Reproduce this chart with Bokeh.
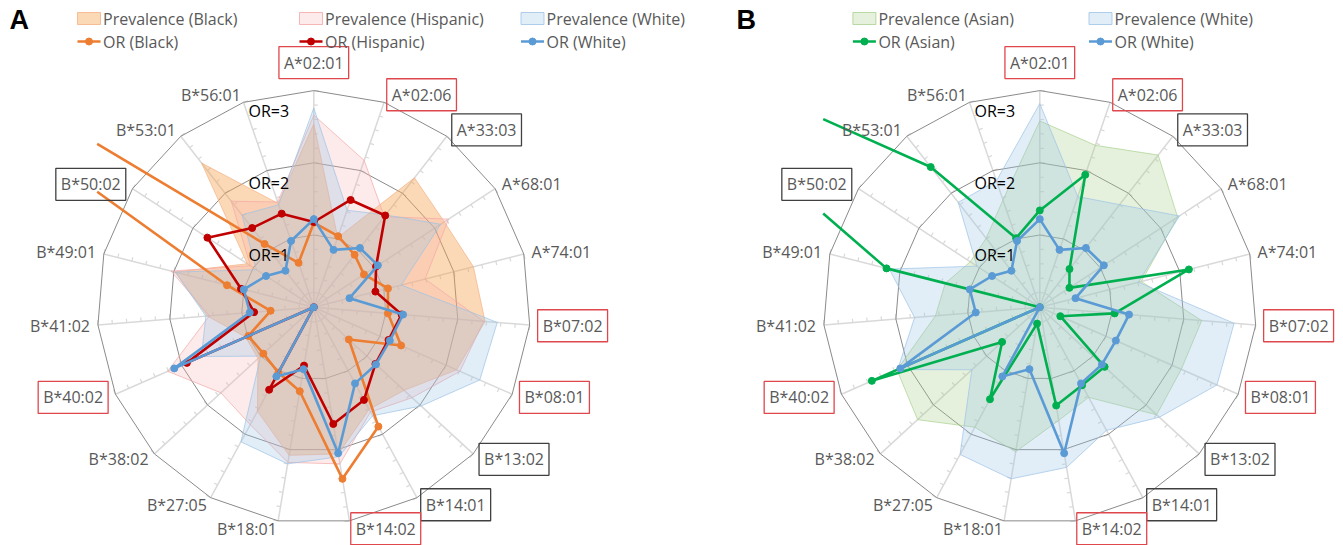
import math
from bokeh.plotting import figure
from bokeh.models import Range1d, Label
from bokeh.embed import file_html
from bokeh.resources import INLINE

# ---------------- data ----------------
alleles = ["A*02:01", "A*02:06", "A*33:03", "A*68:01", "A*74:01", "B*07:02", "B*08:01",
           "B*13:02", "B*14:01", "B*14:02", "B*18:01", "B*27:05", "B*38:02", "B*40:02",
           "B*41:02", "B*49:01", "B*50:02", "B*53:01", "B*56:01"]
red_boxed = ["A*02:01", "A*02:06", "B*07:02", "B*08:01", "B*14:02", "B*40:02"]
black_boxed = ["A*33:03", "B*13:02", "B*14:01", "B*50:02"]
or_levels = [1, 2, 3]
or_level_labels = ["OR=1", "OR=2", "OR=3"]
minor_ticks = [0.2, 0.4, 0.6, 0.8, 1.0, 1.2, 1.4, 1.6, 1.8, 2.0, 2.2, 2.4, 2.6, 2.8, 3.0]

# Panel A (scaled prevalence and odds ratios, radial units 0..3)
prev_black_a = [2.54, 1.02, 2.27, 2.16, 2.28, 2.38, 2.16, 1.70, 1.61, 2.06, 2.08, 1.64, 1.05, 1.03, 1.48, 1.98, 1.10, 2.53, 1.52]
prev_hispanic_a = [2.66, 2.15, 1.59, 2.23, 1.59, 2.36, 2.21, 1.85, 1.65, 2.20, 2.18, 1.85, 1.75, 2.21, 1.45, 2.04, 1.05, 1.86, 1.54]
prev_white_a = [2.76, 1.42, 1.62, 2.10, 1.25, 2.55, 2.51, 2.02, 1.71, 2.10, 2.20, 2.12, 1.00, 1.70, 1.50, 1.98, 0.95, 1.62, 1.50]
or_black = [1.17, 1.04, 0.92, 0.83, 1.06, 1.03, 1.32, 0.66, 1.88, 2.41, 1.18, 1.03, 0.95, 0.99, 0.60, 1.24, 10.0, 1.11, 0.65]
or_hispanic = [1.18, 1.57, 1.61, 1.03, 0.88, 1.22, 1.13, 1.16, 1.46, 1.64, 0.82, 1.30, 0.0, 1.92, 0.83, 1.04, 1.76, 1.39, 1.37]
or_white = [1.22, 0.84, 1.04, 1.06, 0.51, 1.24, 1.15, 1.17, 1.20, 2.05, 0.87, 1.09, 0.0, 2.11, 0.89, 1.00, 0.79, 0.64, 0.97]

# Panel B
prev_asian_b = [2.58, 2.37, 2.67, 2.28, 1.45, 2.25, 2.14, 2.20, 1.42, 1.59, 2.03, 1.89, 2.30, 2.16, 1.45, 1.35, 1.15, 1.21, 1.57]
prev_white_b = [2.82, 1.62, 1.80, 2.31, 1.41, 2.70, 2.68, 2.25, 1.94, 2.25, 2.41, 2.32, 1.28, 2.15, 1.74, 2.15, 1.04, 1.84, 1.85]
or_asian = [1.34, 1.94, 0.67, 0.49, 2.13, 1.04, 0.31, 1.22, 1.23, 1.38, 0.23, 1.45, 0.71, 2.54, 0.0, 2.19, 7.3, 2.46, 1.01]

# ---------------- layout ----------------
W, H = 1343, 545
N = len(alleles)
UNIT = 72.2          # px per radial unit
RMAX = 3
FONT = "Open Sans"
GREY_TXT = "#595959"

def fx(X):
    return X

def fy(Y):
    return H - Y

p = figure(width=W, height=H, x_range=Range1d(0, W), y_range=Range1d(0, H),
           output_backend="svg", toolbar_location=None,
           x_axis_type=None, y_axis_type=None, min_border=0, title=None)
p.outline_line_color = None
p.background_fill_color = "white"
p.border_fill_color = "white"


def polar(c, r, i):
    th = 2 * math.pi * i / N
    return (fx(c[0]) + UNIT * r * math.sin(th), fy(c[1]) + UNIT * r * math.cos(th))


def clip_seg(x0, y0, x1, y1, xmin, xmax, ymin, ymax):
    dx, dy = x1 - x0, y1 - y0
    t0, t1 = 0.0, 1.0
    for pp, q in ((-dx, x0 - xmin), (dx, xmax - x0), (-dy, y0 - ymin), (dy, ymax - y0)):
        if pp == 0:
            if q < 0:
                return None
        else:
            t = q / pp
            if pp < 0:
                if t > t1:
                    return None
                t0 = max(t0, t)
            else:
                if t < t0:
                    return None
                t1 = min(t1, t)
    return (x0 + t0 * dx, y0 + t0 * dy, x0 + t1 * dx, y0 + t1 * dy)


def clipped_paths(pts, box):
    paths, cur = [], []
    n = len(pts)
    for k in range(n):
        x0, y0 = pts[k]
        x1, y1 = pts[(k + 1) % n]
        seg = clip_seg(x0, y0, x1, y1, *box)
        if seg is None:
            if cur:
                paths.append(cur)
                cur = []
            continue
        a, b = (seg[0], seg[1]), (seg[2], seg[3])
        if cur and abs(cur[-1][0] - a[0]) < 1e-6 and abs(cur[-1][1] - a[1]) < 1e-6:
            cur.append(b)
        else:
            if cur:
                paths.append(cur)
            cur = [a, b]
    if cur:
        paths.append(cur)
    if len(paths) > 1:
        e, s = paths[-1][-1], paths[0][0]
        if abs(e[0] - s[0]) < 1e-6 and abs(e[1] - s[1]) < 1e-6:
            paths[0] = paths[-1][:-1] + paths[0]
            paths.pop()
    return paths


def draw_panel(c, areas, lines, letter, legend_prev, legend_or, col_x):
    cx, cy = fx(c[0]), fy(c[1])
    # spokes
    ends = [polar(c, RMAX, i) for i in range(N)]
    p.segment(x0=[cx] * N, y0=[cy] * N, x1=[e[0] for e in ends], y1=[e[1] for e in ends],
              line_color="#D9D9D9", line_width=1.5)
    # tick marks on every spoke (clockwise side)
    tx0, ty0, tx1, ty1 = [], [], [], []
    for i in range(N):
        th = 2 * math.pi * i / N
        for v in minor_ticks:
            x, y = polar(c, v, i)
            L = 5 if abs(v - round(v)) < 1e-9 else 4
            tx0.append(x); ty0.append(y)
            tx1.append(x + L * math.cos(th)); ty1.append(y - L * math.sin(th))
    p.segment(x0=tx0, y0=ty0, x1=tx1, y1=ty1, line_color="#D9D9D9", line_width=1.2)
    # rings
    for lvl in or_levels:
        pts = [polar(c, lvl, i) for i in range(N)] + [polar(c, lvl, 0)]
        p.line([q[0] for q in pts], [q[1] for q in pts], line_color="#8A8A8A", line_width=1)
    # prevalence areas
    for vals, color, alpha, ecol in areas:
        pts = [polar(c, v, i) for i, v in enumerate(vals)]
        p.patch([q[0] for q in pts], [q[1] for q in pts], fill_color=color, fill_alpha=alpha,
                line_color=ecol, line_alpha=0.7, line_width=1)
    # OR lines (clipped to plot area like the spreadsheet chart)
    box = (cx - 3.0 * UNIT, cx + 3.1 * UNIT, cy - 3.15 * UNIT, cy + 3.3 * UNIT)
    for vals, color in lines:
        pts = [polar(c, v, i) for i, v in enumerate(vals)]
        paths = clipped_paths(pts, box)
        p.multi_line([[q[0] for q in pa] for pa in paths], [[q[1] for q in pa] for pa in paths],
                     line_color=color, line_width=2.6, line_join="round")
        inside = [q for q in pts if box[0] <= q[0] <= box[1] and box[2] <= q[1] <= box[3]]
        p.scatter([q[0] for q in inside], [q[1] for q in inside], marker="circle", size=7,
                  fill_color=color, line_color=color)
    # OR level labels
    for lvl, txt in zip(or_levels, or_level_labels):
        p.add_layout(Label(x=cx - 45, y=cy + lvl * UNIT - 20, text=txt, text_align="center",
                           text_baseline="middle", text_font=FONT, text_font_size="16px",
                           text_color="black"))
    # category labels
    for i, name in enumerate(alleles):
        th = 2 * math.pi * i / N
        ux, uy = math.sin(th), math.cos(th)
        vx, vy = polar(c, RMAX, i)
        if abs(ux) < 0.05:
            gap = 12
            align = "center"
            base = "bottom" if uy > 0 else "top"
        else:
            gap = 8
            align = "left" if ux > 0 else "right"
            base = "middle"
        kw = {}
        if name in red_boxed:
            kw = dict(border_line_color="#E0474C", border_line_width=1.3, padding=5)
        elif name in black_boxed:
            kw = dict(border_line_color="#404040", border_line_width=1.3, padding=5)
        p.add_layout(Label(x=vx + gap * ux, y=vy + gap * uy, text=name, text_align=align,
                           text_baseline=base, text_font=FONT, text_font_size="16px",
                           text_color=GREY_TXT, **kw))
    # panel letter
    p.add_layout(Label(x=fx(letter[1]), y=fy(19), text=letter[0], text_align="left",
                       text_baseline="middle", text_font="Liberation Sans",
                       text_font_style="bold", text_font_size="27px", text_color="black"))
    # legend
    for (txt, color, alpha, ecol), x0 in zip(legend_prev, col_x):
        p.quad(left=fx(x0), right=fx(x0 + 23), top=fy(12), bottom=fy(24), fill_color=color,
               fill_alpha=alpha, line_color=ecol, line_alpha=0.8, line_width=1)
        p.add_layout(Label(x=fx(x0 + 25.5), y=fy(18), text=txt, text_align="left",
                           text_baseline="middle", text_font=FONT, text_font_size="16px",
                           text_color=GREY_TXT))
    for (txt, color), x0 in zip(legend_or, col_x):
        p.line([fx(x0), fx(x0 + 23)], [fy(41), fy(41)], line_color=color, line_width=2.6)
        p.scatter([fx(x0 + 11.5)], [fy(41)], marker="circle", size=7, fill_color=color,
                  line_color=color)
        p.add_layout(Label(x=fx(x0 + 25.5), y=fy(41), text=txt, text_align="left",
                           text_baseline="middle", text_font=FONT, text_font_size="16px",
                           text_color=GREY_TXT))


C_BLACK, C_HISP, C_WHITE, C_ASIAN = "#F7A450", "#F6B0B0", "#9DC3E6", "#A9D18E"
L_BLACK, L_HISP, L_WHITE, L_ASIAN = "#ED7D31", "#C00000", "#5B9BD5", "#00B050"

draw_panel((313.3, 306.7),
           [(prev_black_a, C_BLACK, 0.42, "#F4B183"),
            (prev_hispanic_a, C_HISP, 0.25, "#F4A6A6"),
            (prev_white_a, C_WHITE, 0.30, C_WHITE)],
           [(or_black, L_BLACK), (or_hispanic, L_HISP), (or_white, L_WHITE)],
           ("A", 9),
           [("Prevalence (Black)", C_BLACK, 0.42, "#F4B183"),
            ("Prevalence (Hispanic)", C_HISP, 0.25, "#F4A6A6"),
            ("Prevalence (White)", C_WHITE, 0.30, C_WHITE)],
           [("OR (Black)", L_BLACK), ("OR (Hispanic)", L_HISP), ("OR (White)", L_WHITE)],
           [77, 299, 520.5])

draw_panel((1039.3, 306.7),
           [(prev_asian_b, C_ASIAN, 0.30, C_ASIAN),
            (prev_white_b, C_WHITE, 0.30, C_WHITE)],
           [(or_asian, L_ASIAN), (or_white, L_WHITE)],
           ("B", 736),
           [("Prevalence (Asian)", C_ASIAN, 0.30, C_ASIAN),
            ("Prevalence (White)", C_WHITE, 0.30, C_WHITE)],
           [("OR (Asian)", L_ASIAN), ("OR (White)", L_WHITE)],
           [852.4, 1088.5])

open("out.html", "w").write(file_html(p, INLINE))
